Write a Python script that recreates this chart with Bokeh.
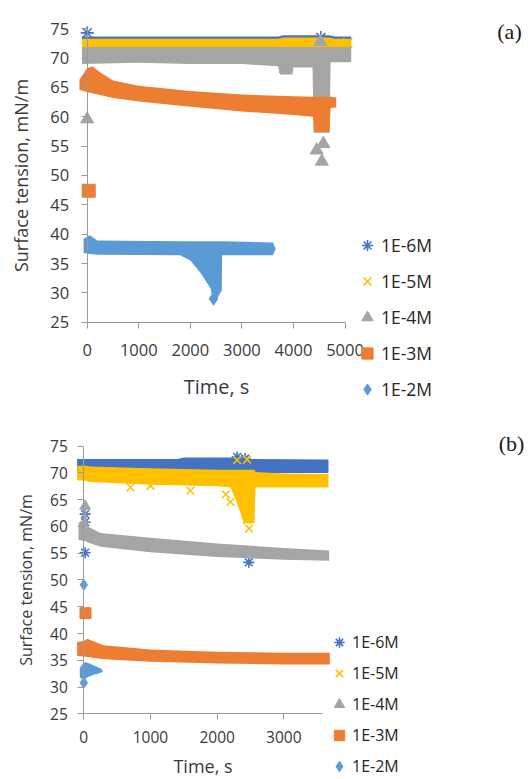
from bokeh.plotting import figure
from bokeh.models import Range1d, FixedTicker, Legend, LegendItem, Label
from bokeh.layouts import column
from bokeh.embed import file_html
from bokeh.resources import INLINE

# ---------------- data ----------------
SERIES = ["1E-6M", "1E-5M", "1E-4M", "1E-3M", "1E-2M"]
COLORS = ["#4472C4", "#FFC000", "#A5A5A5", "#ED7D31", "#5B9BD5"]
MARKERS = ["asterisk", "x", "triangle", "square", "diamond"]

Y_TICKS = [25, 30, 35, 40, 45, 50, 55, 60, 65, 70, 75]
X_TICKS_A = [0, 1000, 2000, 3000, 4000, 5000]
X_TICKS_B = [0, 1000, 2000, 3000]

# ---- panel (a): band envelopes (time, low, high) and isolated points ----
a_e6_t = [-100, 3700, 3800, 4700, 4800, 5120]
a_e6_lo = [73.0, 73.0, 73.1, 73.1, 73.0, 73.0]
a_e6_hi = [73.7, 73.7, 73.9, 73.9, 73.7, 73.7]
a_e6_pt_t = [0, 4530]
a_e6_pt_v = [74.3, 73.5]

a_e5_t = [-100, 3700, 3800, 4700, 4800, 5120]
a_e5_lo = [71.6, 71.6, 71.6, 71.6, 71.6, 71.6]
a_e5_hi = [73.3, 73.3, 73.5, 73.5, 73.3, 73.3]
a_e5_pt_t = [5050]
a_e5_pt_v = [72.6]

a_e4_t = [-100, 1000, 2000, 3000, 3700, 3740, 3980, 4000, 4370, 4390, 4700, 4720, 5120]
a_e4_lo = [69.0, 69.2, 69.0, 69.0, 68.6, 67.2, 67.2, 68.4, 68.4, 57.3, 57.3, 69.3, 69.3]
a_e4_hi = [71.9, 71.9, 71.9, 71.9, 71.9, 71.9, 71.9, 71.9, 71.9, 71.9, 71.9, 71.9, 71.9]
a_e4_pt_t = [0, 3850, 4450, 4550, 4580, 4520]
a_e4_pt_v = [59.6, 68.2, 54.3, 52.4, 55.4, 72.8]

a_e3_t = [-150, 0, 100, 250, 500, 1000, 2000, 3000, 4000, 4380, 4400, 4700, 4720, 4830]
a_e3_lo = [64.6, 64.2, 64.0, 63.7, 63.2, 62.6, 61.7, 60.9, 60.3, 60.0, 57.4, 57.4, 61.5, 61.6]
a_e3_hi = [66.3, 68.3, 68.6, 67.6, 66.2, 65.3, 64.4, 63.8, 63.5, 63.4, 63.4, 63.4, 63.4, 63.3]
a_e3_pt_t = [30]
a_e3_pt_v = [47.4]

a_e2_t = [-70, 50, 200, 1800, 2000, 2200, 2390, 2450, 2530, 2610, 2615, 3600, 3650]
a_e2_lo = [36.8, 36.6, 36.5, 36.4, 35.5, 33.4, 30.8, 28.3, 29.2, 30.4, 36.4, 36.4, 37.4]
a_e2_hi = [39.2, 39.8, 38.9, 38.8, 38.8, 38.8, 38.8, 38.8, 38.8, 38.8, 38.8, 38.6, 37.6]
a_e2_pt_t = [2450]
a_e2_pt_v = [29.0]

# ---- panel (b) ----
b_e6_t = [-100, 1400, 1500, 2300, 2400, 3670]
b_e6_lo = [70.0, 70.0, 70.0, 70.0, 70.0, 70.0]
b_e6_hi = [72.6, 72.6, 72.9, 72.9, 72.6, 72.5]
b_e6_pt_t = [20, 20, 20, 2300, 2420, 2475]
b_e6_pt_v = [55.1, 62.3, 60.8, 73.0, 72.7, 53.3]

b_e5_t = [-100, 0, 100, 1000, 2000, 2200, 2280, 2350, 2400, 2560, 2575, 3000, 3670]
b_e5_lo = [68.6, 68.6, 68.3, 67.8, 67.5, 67.3, 65.0, 62.5, 60.6, 60.6, 67.3, 67.3, 67.3]
b_e5_hi = [71.3, 71.4, 71.2, 70.9, 70.6, 70.6, 70.6, 70.6, 70.6, 70.6, 70.2, 69.9, 69.8]
b_e5_pt_t = [700, 1000, 1600, 2130, 2200, 2300, 2450, 2480, 2450]
b_e5_pt_v = [67.3, 67.6, 66.7, 66.0, 64.6, 72.4, 72.5, 59.6, 61.2]

b_e4_t = [-80, 0, 20, 60, 250, 1000, 2000, 3000, 3680]
b_e4_lo = [57.5, 57.3, 57.3, 57.0, 56.2, 55.2, 54.3, 53.8, 53.6]
b_e4_hi = [60.5, 61.5, 64.0, 60.0, 58.8, 57.9, 56.8, 56.0, 55.5]
b_e4_pt_t = [20]
b_e4_pt_v = [63.8]

b_e3_t = [-100, 0, 50, 300, 1000, 2000, 3000, 3690]
b_e3_lo = [35.8, 35.7, 35.6, 35.2, 34.7, 34.4, 34.2, 34.2]
b_e3_hi = [38.4, 38.6, 39.0, 37.8, 37.0, 36.6, 36.4, 36.4]
b_e3_pt_t = [25]
b_e3_pt_v = [43.8]

b_e2_t = [-60, 0, 50, 150, 250, 290]
b_e2_lo = [31.8, 31.3, 31.8, 32.3, 32.6, 33.0]
b_e2_hi = [33.6, 34.6, 34.6, 34.0, 33.5, 33.0]
b_e2_pt_t = [0, 0]
b_e2_pt_v = [49.1, 30.8]

PANEL_A = [
    (a_e6_t, a_e6_lo, a_e6_hi, a_e6_pt_t, a_e6_pt_v),
    (a_e5_t, a_e5_lo, a_e5_hi, a_e5_pt_t, a_e5_pt_v),
    (a_e4_t, a_e4_lo, a_e4_hi, a_e4_pt_t, a_e4_pt_v),
    (a_e3_t, a_e3_lo, a_e3_hi, a_e3_pt_t, a_e3_pt_v),
    (a_e2_t, a_e2_lo, a_e2_hi, a_e2_pt_t, a_e2_pt_v),
]
PANEL_B = [
    (b_e6_t, b_e6_lo, b_e6_hi, b_e6_pt_t, b_e6_pt_v),
    (b_e5_t, b_e5_lo, b_e5_hi, b_e5_pt_t, b_e5_pt_v),
    (b_e4_t, b_e4_lo, b_e4_hi, b_e4_pt_t, b_e4_pt_v),
    (b_e3_t, b_e3_lo, b_e3_hi, b_e3_pt_t, b_e3_pt_v),
    (b_e2_t, b_e2_lo, b_e2_hi, b_e2_pt_t, b_e2_pt_v),
]

FONT = "Open Sans"
AXIS_COLOR = "#9a9a9a"
TEXT_COLOR = "#3a3a3a"


def make_panel(data, width, height, xr, yr, xticks, xbounds, msize, st):
    # the frame covers the whole canvas; axes are placed at t=0 and y=25
    p = figure(width=width, height=height,
               x_range=Range1d(*xr), y_range=Range1d(*yr),
               output_backend="svg", toolbar_location=None, min_border=0)
    p.outline_line_color = None
    p.grid.visible = False

    items = []
    for (t, lo, hi, pt, pv), name, col, mk in zip(data, SERIES, COLORS, MARKERS):
        p.varea(x=t, y1=lo, y2=hi, fill_color=col)
        if mk in ("x", "asterisk"):
            r = p.scatter(x=pt, y=pv, marker=mk, size=msize, line_color=col,
                          line_width=1.6, fill_color=None)
        else:
            r = p.scatter(x=pt, y=pv, marker=mk, size=msize, fill_color=col,
                          line_color=col)
        items.append(LegendItem(label=name, renderers=[r]))

    xa = p.xaxis[0]
    ya = p.yaxis[0]
    xa.fixed_location = Y_TICKS[0]
    ya.fixed_location = xticks[0]
    xa.bounds = xbounds
    ya.bounds = (Y_TICKS[0], Y_TICKS[-1])
    xa.ticker = FixedTicker(ticks=xticks)
    ya.ticker = FixedTicker(ticks=Y_TICKS)
    for ax in (xa, ya):
        ax.axis_line_color = AXIS_COLOR
        ax.major_tick_line_color = AXIS_COLOR
        ax.minor_tick_line_color = None
        ax.major_tick_in = 0
        ax.major_tick_out = 6
        ax.major_label_text_font = FONT
        ax.major_label_text_font_size = st["tick_fs"]
        ax.major_label_text_color = TEXT_COLOR
        ax.axis_label_text_font = FONT
        ax.axis_label_text_font_style = "normal"
        ax.axis_label_text_color = TEXT_COLOR
    xa.axis_label = "Time, s"
    ya.axis_label = "Surface tension, mN/m"
    xa.axis_label_text_font_size = st["xt_fs"]
    ya.axis_label_text_font_size = st["yt_fs"]
    xa.major_label_standoff = st["x_tick_so"]
    xa.axis_label_standoff = st["x_lab_so"]
    ya.major_label_standoff = st["y_tick_so"]
    ya.axis_label_standoff = st["y_lab_so"]

    g = st["glyph"]
    leg = Legend(items=items, location=st["leg_loc"], orientation="vertical",
                 glyph_width=g, glyph_height=g, label_height=g,
                 spacing=st["leg_sp"], label_standoff=st["leg_so"],
                 padding=0, margin=0, border_line_color=None,
                 background_fill_alpha=0,
                 label_text_font=FONT, label_text_font_size=st["leg_fs"],
                 label_text_color="#262626")
    p.add_layout(leg)

    p.add_layout(Label(x=st["tag_xy"][0], y=st["tag_xy"][1], text=st["tag"],
                       text_font="Liberation Serif", text_font_size="22px",
                       text_color="#1a1a1a", text_align="center",
                       text_baseline="middle"))
    return p


STYLE_A = dict(tick_fs="16.5px", xt_fs="20px", yt_fs="18px",
               x_tick_so=16, x_lab_so=13, y_tick_so=12, y_lab_so=15,
               glyph=28, leg_loc=(353, 7), leg_sp=8, leg_so=-2,
               leg_fs="17.5px", tag="(a)", tag_xy=(8189, 74.5))
STYLE_B = dict(tick_fs="15.5px", xt_fs="18px", yt_fs="16px",
               x_tick_so=11, x_lab_so=8, y_tick_so=10, y_lab_so=10,
               glyph=26, leg_loc=(326, 0), leg_sp=5, leg_so=-4,
               leg_fs="16px", tag="(b)", tag_xy=(6415, 75.5))

pa = make_panel(PANEL_A, 532, 410, (-1681, 8635), (9.95, 79.82),
                X_TICKS_A, (0, 5000), 13, STYLE_A)
pb = make_panel(PANEL_B, 532, 369, (-1249.5, 6730), (12.72, 81.67),
                X_TICKS_B, (0, 3580), 11, STYLE_B)

layout = column(pa, pb, spacing=0)
open("out.html", "w").write(file_html(layout, INLINE))
